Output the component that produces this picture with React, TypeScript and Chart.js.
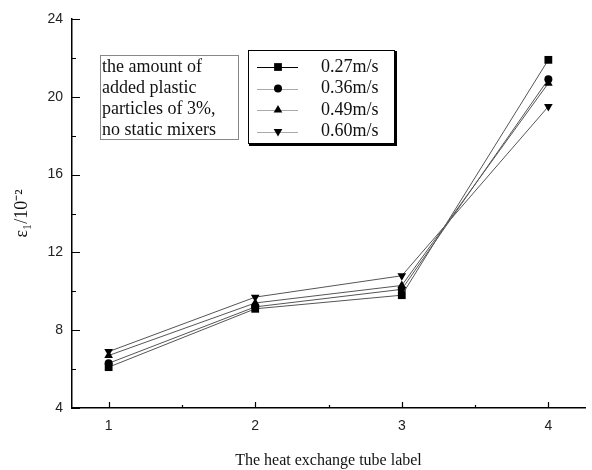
import React, { useEffect, useRef } from "react";
import { Chart, registerables } from "chart.js";

Chart.register(...registerables);

const tubeLabels = [1, 2, 3, 4];
const speedLabels = ["0.27m/s", "0.36m/s", "0.49m/s", "0.60m/s"];
const v027 = [6.1, 9.1, 9.8, 21.9];
const v036 = [6.3, 9.2, 10.1, 20.9];
const v049 = [6.7, 9.4, 10.3, 20.7];
const v060 = [6.9, 9.7, 10.8, 19.5];
const yTicks = [4, 8, 12, 16, 20, 24];
const yMinorTicks = [6, 10, 14, 18, 22];
const xMinorTicks = [1.5, 2.5, 3.5];
const noteLines = ["the amount of", "added plastic", "particles of 3%,", "no static mixers"];

const seriesValues = [v027, v036, v049, v060];
const pointStyles = ["rect", "circle", "triangle", "triangle"];
const pointRotations = [0, 0, 0, 180];
const pointRadii = [5.5, 4, 5, 5];
const legendLineColors = ["#000", "#aaa", "#aaa", "#aaa"];

const serif = "'Liberation Serif', 'Times New Roman', serif";
const sans = "'Liberation Sans', Arial, sans-serif";

function drawMarker(ctx: CanvasRenderingContext2D, style: string, r: number, rot: number, x: number, y: number) {
  ctx.beginPath();
  if (style === "rect") {
    const s = r * Math.SQRT1_2;
    ctx.rect(x - s, y - s, 2 * s, 2 * s);
  } else if (style === "circle") {
    ctx.arc(x, y, r, 0, Math.PI * 2);
  } else {
    const rad = (rot * Math.PI) / 180;
    for (let k = 0; k < 3; k++) {
      const a = rad - Math.PI / 2 + (k * 2 * Math.PI) / 3;
      const px = x + Math.cos(a) * r;
      const py = y + Math.sin(a) * r;
      if (k === 0) ctx.moveTo(px, py);
      else ctx.lineTo(px, py);
    }
    ctx.closePath();
  }
  ctx.fill();
}

const overlayPlugin = {
  id: "overlay",
  afterDraw(chart: any) {
    const ctx = chart.ctx;
    const xs = chart.scales.x;
    const ys = chart.scales.y;
    const area = chart.chartArea;
    ctx.save();
    ctx.strokeStyle = "#000";
    ctx.lineWidth = 1.2;
    ctx.beginPath();
    yTicks.forEach((t) => {
      const y = Math.round(ys.getPixelForValue(t)) + 0.5;
      ctx.moveTo(area.left, y);
      ctx.lineTo(area.left + 8, y);
    });
    yMinorTicks.forEach((t) => {
      const y = Math.round(ys.getPixelForValue(t)) + 0.5;
      ctx.moveTo(area.left, y);
      ctx.lineTo(area.left + 4, y);
    });
    tubeLabels.forEach((t) => {
      const x = Math.round(xs.getPixelForValue(t)) + 0.5;
      ctx.moveTo(x, area.bottom);
      ctx.lineTo(x, area.bottom - 6);
    });
    xMinorTicks.forEach((t) => {
      const x = Math.round(xs.getPixelForValue(t)) + 0.5;
      ctx.moveTo(x, area.bottom);
      ctx.lineTo(x, area.bottom - 3);
    });
    ctx.stroke();

    // note box
    ctx.strokeStyle = "#888";
    ctx.lineWidth = 1;
    ctx.strokeRect(100.5, 55.5, 138, 84);
    ctx.fillStyle = "#111";
    ctx.font = `18px ${serif}`;
    ctx.textBaseline = "middle";
    ctx.textAlign = "left";
    noteLines.forEach((line, i) => {
      ctx.fillText(line, 102, 67 + i * 21);
    });

    // legend box
    ctx.strokeStyle = "#000";
    ctx.lineWidth = 1;
    ctx.strokeRect(248.5, 50.5, 146, 93);
    ctx.lineWidth = 2;
    ctx.beginPath();
    ctx.moveTo(249, 145);
    ctx.lineTo(396, 145);
    ctx.lineTo(396, 51);
    ctx.stroke();
    speedLabels.forEach((label, i) => {
      const y = 67 + i * 21.5;
      ctx.strokeStyle = legendLineColors[i];
      ctx.lineWidth = 1.2;
      ctx.beginPath();
      ctx.moveTo(257, Math.round(y) + 0.5);
      ctx.lineTo(298, Math.round(y) + 0.5);
      ctx.stroke();
      ctx.fillStyle = "#000";
      drawMarker(ctx, pointStyles[i], pointRadii[i], pointRotations[i], 278, y);
      ctx.fillStyle = "#111";
      ctx.font = `18px ${serif}`;
      ctx.textAlign = "left";
      ctx.textBaseline = "middle";
      ctx.fillText(label, 321, y);
    });
    ctx.restore();
  },
};

export default function App() {
  const ref = useRef<HTMLCanvasElement>(null);
  useEffect(() => {
    document.body.style.margin = "0";
    const canvas = ref.current!;
    const chart = new Chart(canvas, {
      type: "line",
      data: {
        datasets: seriesValues.map((vals, i) => ({
          label: speedLabels[i],
          data: vals.map((v, j) => ({ x: tubeLabels[j], y: v })),
          borderColor: "#555",
          borderWidth: 1,
          backgroundColor: "#000",
          pointBackgroundColor: "#000",
          pointBorderColor: "#000",
          pointBorderWidth: 0,
          pointStyle: pointStyles[i] as any,
          rotation: pointRotations[i],
          pointRadius: pointRadii[i],
          tension: 0,
        })),
      },
      options: {
        animation: false,
        responsive: false,
        events: [],
        layout: { padding: { left: 8, top: 19, right: 7, bottom: 0 } },
        plugins: { legend: { display: false }, tooltip: { enabled: false } },
        scales: {
          x: {
            type: "linear",
            min: 0.75,
            max: 4.25,
            afterBuildTicks: (s: any) => {
              s.ticks = tubeLabels.map((v) => ({ value: v }));
            },
            afterFit: (s: any) => {
              s.height = 62;
            },
            grid: { display: false, drawTicks: false },
            border: { display: true, color: "#000", width: 1.5 },
            ticks: { padding: 10, color: "#222", font: { family: sans, size: 14 } },
            title: {
              display: true,
              text: "The heat exchange tube label",
              color: "#111",
              font: { family: serif, size: 16 },
              padding: 0,
            },
          },
          y: {
            type: "linear",
            min: 4,
            max: 24,
            afterBuildTicks: (s: any) => {
              s.ticks = yTicks.map((v) => ({ value: v }));
            },
            afterFit: (s: any) => {
              s.width = 64;
            },
            grid: { display: false, drawTicks: false },
            border: { display: true, color: "#000", width: 1.5 },
            ticks: { padding: 9, color: "#222", font: { family: sans, size: 14 } },
            title: {
              display: true,
              text: "ε₁/10⁻²",
              color: "#111",
              font: { family: serif, size: 18 },
              padding: { top: 3, bottom: 0 },
            },
          },
        },
      },
      plugins: [overlayPlugin],
    });
    return () => chart.destroy();
  }, []);
  return <canvas ref={ref} width={592} height={470} style={{ display: "block" }} />;
}
